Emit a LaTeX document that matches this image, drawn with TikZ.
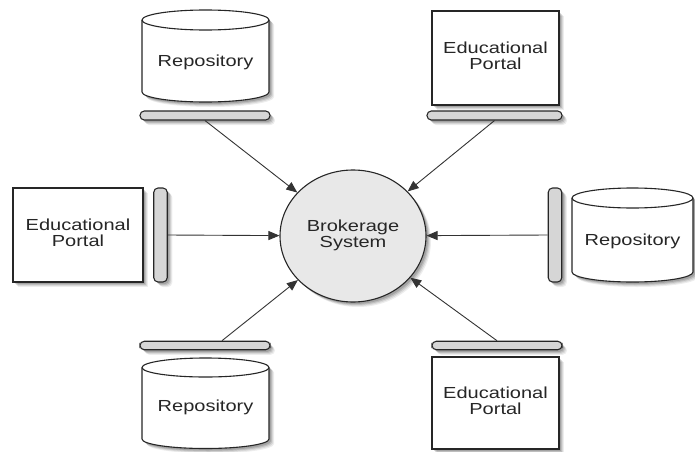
\documentclass[tikz,border=0pt]{standalone}
\usepackage{fontspec}
\setmainfont{Liberation Sans}
\usetikzlibrary{shapes.geometric,arrows.meta,shadows}
% widened label, one or more centred lines
\newcommand\lbl[1]{\scalebox{1.25}[1]{\begin{tabular}{@{}c@{}}#1\end{tabular}}}

\begin{document}
\begin{tikzpicture}[x=1pt,y=1pt,
  edge/.style={draw=black!85, line width=1.1pt},
  % layered drop shadows give a soft edge
  shade/.style={
    drop shadow={shadow xshift=5pt, shadow yshift=-5pt, opacity=0.07, fill=black},
    drop shadow={shadow xshift=4pt, shadow yshift=-4pt, opacity=0.09, fill=black},
    drop shadow={shadow xshift=3pt, shadow yshift=-3pt, opacity=0.12, fill=black},
    drop shadow={shadow xshift=2pt, shadow yshift=-2pt, opacity=0.14, fill=black}},
  txt/.style={font=\fontsize{16}{16.5}\selectfont, text=black!85, inner sep=0pt},
  portal/.style={edge, fill=white, shade, minimum width=127pt, minimum height=94pt, inner sep=0pt, txt},
  bar/.style={edge, fill=black!16, shade, rounded corners=4.3pt, inner sep=0pt},
  hbar/.style={bar, minimum width=130pt, minimum height=9pt},
  vbar/.style={bar, minimum width=13.5pt, minimum height=94pt},
  cyl/.style={edge, fill=white, shade},
  hub/.style={ellipse, edge, fill=black!9, shade, minimum width=146pt, minimum height=132pt, inner sep=0pt, txt},
  link/.style={draw=black!80, line width=0.9pt, -{Triangle[length=11pt,width=9pt]}},
]
\useasboundingbox (0,0) rectangle (695,451);

% central broker
\node[hub] (brok) at (353,215) {\lbl{Brokerage\\System}};

% top left: repository
\path[cyl] (142,431) -- (142,359) arc[start angle=180,end angle=360,x radius=63.5,y radius=10]
  -- (269,431) arc[start angle=0,end angle=180,x radius=63.5,y radius=10] -- cycle;
\draw[edge] (142,431) arc[start angle=180,end angle=360,x radius=63.5,y radius=10];
\node[txt] (repoA) at (205.5,388) {\lbl{Repository}};
\node[hbar] (barA) at (205,335.5) {};

% top right: portal
\node[portal] (portA) at (495.5,393) {\lbl{Educational\\Portal}};
\node[hbar, minimum width=135pt] (barB) at (494.5,335.5) {};

% left: portal
\node[portal, minimum width=130pt] (portC) at (78,216) {\lbl{Educational\\Portal}};
\node[vbar] (barC) at (160.5,216) {};

% right: repository
\path[cyl] (572,253) -- (572,179) arc[start angle=180,end angle=360,x radius=60.5,y radius=10]
  -- (693,253) arc[start angle=0,end angle=180,x radius=60.5,y radius=10] -- cycle;
\draw[edge] (572,253) arc[start angle=180,end angle=360,x radius=60.5,y radius=10];
\node[txt] (repoD) at (632.5,209) {\lbl{Repository}};
\node[vbar] (barD) at (555,216) {};

% bottom left: repository
\node[hbar, minimum height=8.5pt] (barE) at (205,105.5) {};
\path[cyl] (142,83.5) -- (142,12) arc[start angle=180,end angle=360,x radius=63.5,y radius=9.5]
  -- (269,83.5) arc[start angle=0,end angle=180,x radius=63.5,y radius=9.5] -- cycle;
\draw[edge] (142,83.5) arc[start angle=180,end angle=360,x radius=63.5,y radius=9.5];
\node[txt] (repoE) at (205.5,43) {\lbl{Repository}};

% bottom right: portal
\node[hbar, minimum height=8.5pt] (barF) at (497,105.5) {};
\node[portal, minimum height=92pt] (portF) at (495.5,48) {\lbl{Educational\\Portal}};

% connections into the broker
\draw[link] (barA.south) -- (brok);
\draw[link] (barB.south) -- (brok);
\draw[link] (barC.east) -- (brok);
\draw[link] (barD.west) -- (brok);
\draw[link] ([xshift=17pt]barE.north) -- (brok);
\draw[link] (barF.north) -- (brok);
\end{tikzpicture}
\end{document}
